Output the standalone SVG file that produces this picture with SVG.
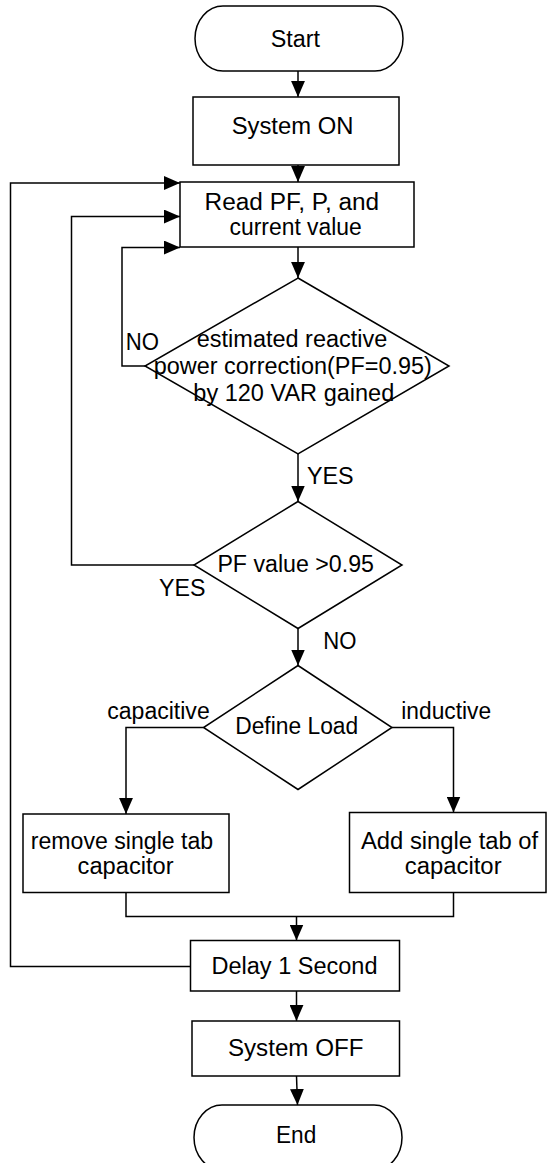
<svg xmlns="http://www.w3.org/2000/svg" width="548" height="1163" viewBox="0 0 548 1163">
<defs>
<marker id="arr" markerUnits="userSpaceOnUse" markerWidth="16" markerHeight="14" viewBox="0 0 15 13" refX="15" refY="6.5" orient="auto">
<path d="M0,0 L15,6.5 L0,13 Z" fill="#000"/>
</marker>
<style>
.s{fill:#fff;stroke:#000;stroke-width:1.5}
.c{fill:none;stroke:#000;stroke-width:1.5}
.a{marker-end:url(#arr)}
text{font-family:"Liberation Sans",Arial,sans-serif;font-size:23px;fill:#000}
</style>
</defs>
<rect width="548" height="1163" fill="#fff"/>
<g id="connectors">
<path class="c a" d="M298,71 V97"/>
<path class="c a" d="M298,165 V182"/>
<path class="c a" d="M298,247 V278"/>
<path class="c a" d="M145,366 H122 V247.5 H180"/>
<path class="c a" d="M298,454 V501.5"/>
<path class="c a" d="M194,565 H71.5 V216.5 H180"/>
<path class="c a" d="M298,628.5 V665.5"/>
<path class="c a" d="M203.5,727.5 H126 V814"/>
<path class="c a" d="M392,727.5 H453.5 V812.5"/>
<path class="c" d="M126,892.5 V916.5 H453.5 V892.5"/>
<path class="c a" d="M296.5,916.5 V940.5"/>
<path class="c a" d="M191,966.5 H10.5 V183 H180"/>
<path class="c a" d="M296.5,991 V1021"/>
<path class="c a" d="M296.5,1076 L297.5,1105"/>
</g>
<g id="start">
<path class="s" d="M223,6 H375 A28,32.5 0 0 1 375,71 H223 A28,32.5 0 0 1 223,6 Z"/>
<text x="270.7" y="47" textLength="49.3" lengthAdjust="spacingAndGlyphs">Start</text>
</g>
<g id="system-on">
<rect class="s" x="193" y="97" width="206" height="68"/>
<text x="231.7" y="133.5" textLength="121.7" lengthAdjust="spacingAndGlyphs">System ON</text>
</g>
<g id="read">
<rect class="s" x="180" y="182" width="234" height="65"/>
<text x="204.5" y="210" textLength="174.7" lengthAdjust="spacingAndGlyphs">Read PF, P, and</text>
<text x="229.6" y="235" textLength="132.2" lengthAdjust="spacingAndGlyphs">current value</text>
</g>
<g id="decision-reactive">
<path class="s" d="M298,278 L449,366 L298,454 L145,366 Z"/>
<text x="196.8" y="347" textLength="190.5" lengthAdjust="spacingAndGlyphs">estimated reactive</text>
<text x="153.8" y="374" textLength="278" lengthAdjust="spacingAndGlyphs">power correction(PF=0.95)</text>
<text x="193.3" y="401" textLength="201" lengthAdjust="spacingAndGlyphs">by 120 VAR gained</text>
</g>
<g id="decision-pf">
<path class="s" d="M298,501.5 L402,565 L298,628.5 L194,565 Z"/>
<text x="217.4" y="572" textLength="156.6" lengthAdjust="spacingAndGlyphs">PF value &gt;0.95</text>
</g>
<g id="decision-load">
<path class="s" d="M298,665.5 L392,727.5 L298,789.5 L203.5,727.5 Z"/>
<text x="235.2" y="733.5" textLength="123" lengthAdjust="spacingAndGlyphs">Define Load</text>
</g>
<g id="remove">
<rect class="s" x="23" y="814" width="206" height="78.5"/>
<text x="30.8" y="848.5" textLength="182.4" lengthAdjust="spacingAndGlyphs">remove single tab</text>
<text x="77.6" y="874" textLength="96" lengthAdjust="spacingAndGlyphs">capacitor</text>
</g>
<g id="add">
<rect class="s" x="349.5" y="812.5" width="196.5" height="80"/>
<text x="361" y="848.5" textLength="177.2" lengthAdjust="spacingAndGlyphs">Add single tab of</text>
<text x="404.7" y="874" textLength="96.9" lengthAdjust="spacingAndGlyphs">capacitor</text>
</g>
<g id="delay">
<rect class="s" x="190.5" y="940.5" width="209" height="50.5"/>
<text x="211.5" y="974" textLength="166" lengthAdjust="spacingAndGlyphs">Delay 1 Second</text>
</g>
<g id="system-off">
<rect class="s" x="192" y="1021" width="207.5" height="55"/>
<text x="227.9" y="1056" textLength="135.6" lengthAdjust="spacingAndGlyphs">System OFF</text>
</g>
<g id="end">
<path class="s" d="M222,1105 H374 A28,32.5 0 0 1 374,1170 H222 A28,32.5 0 0 1 222,1105 Z"/>
<text x="276" y="1143" textLength="40.3" lengthAdjust="spacingAndGlyphs">End</text>
</g>
<g id="labels">
<text x="125.8" y="350" textLength="33.2" lengthAdjust="spacingAndGlyphs">NO</text>
<text x="306.9" y="483.5" textLength="46.8" lengthAdjust="spacingAndGlyphs">YES</text>
<text x="159" y="595.5" textLength="46.5" lengthAdjust="spacingAndGlyphs">YES</text>
<text x="323.3" y="649" textLength="33.2" lengthAdjust="spacingAndGlyphs">NO</text>
<text x="107.3" y="718.5" textLength="102.4" lengthAdjust="spacingAndGlyphs">capacitive</text>
<text x="401.3" y="718.5" textLength="89.8" lengthAdjust="spacingAndGlyphs">inductive</text>
</g>
</svg>
